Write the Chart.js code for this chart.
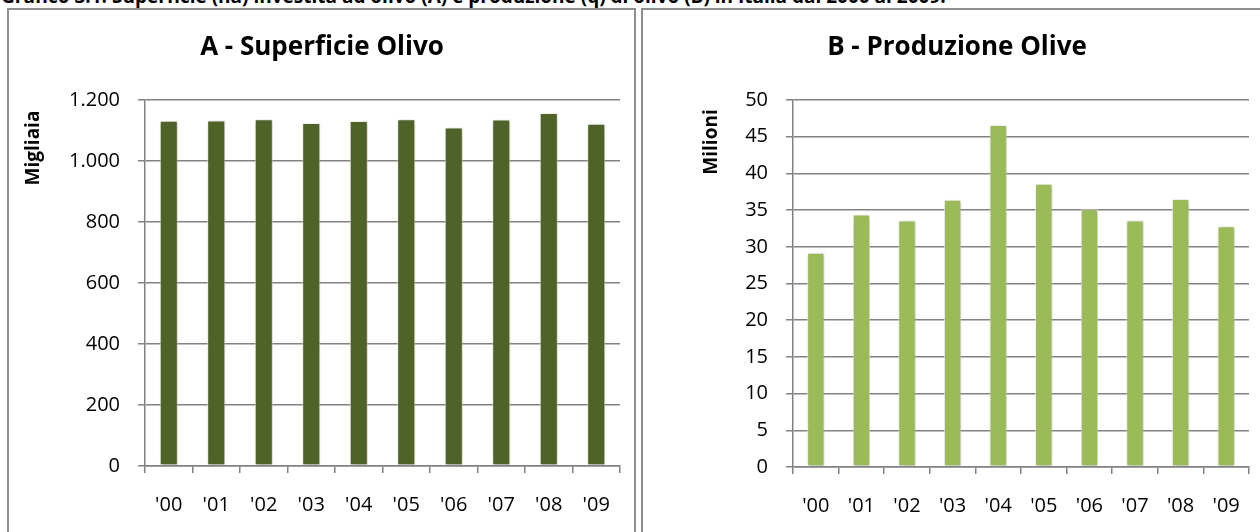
<!DOCTYPE html>
<html lang="it">
<head>
<meta charset="utf-8">
<title>Superficie e produzione olivo in Italia 2000-2009</title>
<script src="https://cdn.jsdelivr.net/npm/chart.js@4.4.1/dist/chart.umd.min.js"></script>
<style>
  html, body { margin: 0; padding: 0; background: #fff; }
  body { position: relative; width: 1260px; height: 532px; overflow: hidden; font-family: "Open Sans", sans-serif; }
  #caption { position: absolute; left: 1px; top: -13px; font: bold 19px/19px "Open Sans", sans-serif; white-space: nowrap; color: #000; }
  .panel { position: absolute; box-sizing: border-box; border: 2px solid #8e8e8e; pointer-events: none; }
  #panelA { left: 7px; top: 8px; width: 629px; height: 540px; }
  #panelB { left: 641px; top: 8px; width: 640px; height: 540px; }
  canvas { position: absolute; top: 0; }
  #chartA { left: 0; }
  #chartB { left: 644px; }
</style>
</head>
<body>
<div id="caption">Grafico 3.1: Superficie (ha) investita ad olivo (A) e produzione (q) di olivo (B) in Italia dal 2000 al 2009.</div>
<canvas id="chartA" width="636" height="532"></canvas>
<canvas id="chartB" width="616" height="532"></canvas>
<div class="panel" id="panelA"></div>
<div class="panel" id="panelB"></div>
<script>
// Anni (asse delle categorie, comune ai due grafici)
const anni = ["'00", "'01", "'02", "'03", "'04", "'05", "'06", "'07", "'08", "'09"];

// A - superficie investita ad olivo, migliaia di ettari
const superficieMigliaia = [1132, 1133, 1137, 1125, 1131, 1137, 1110, 1136, 1157, 1122];
// B - produzione di olive, milioni di quintali
const produzioneMilioni = [29.2, 34.4, 33.6, 36.4, 46.6, 38.6, 35.1, 33.6, 36.5, 32.8];

// Valori delle tacche degli assi verticali
const tacchePanA = [0, 200, 400, 600, 800, 1000, 1200];
const tacchePanB = [0, 5, 10, 15, 20, 25, 30, 35, 40, 45, 50];

const titoloA = 'A - Superficie Olivo';
const titoloB = 'B - Produzione Olive';
const unitaA = 'Migliaia';
const unitaB = 'Milioni';

const FONT = '"Open Sans", sans-serif';
const GRIGIO = '#828282';

Chart.defaults.color = '#000';
Chart.defaults.font.family = FONT;

// Formato italiano con punto come separatore delle migliaia
function formatoIt(v) {
  if (v < 1000) return String(v);
  const resto = String(v % 1000).padStart(3, '0');
  return Math.floor(v / 1000) + '.' + resto;
}

// Ombra morbida sotto le barre
const ombraBarre = {
  id: 'ombraBarre',
  beforeDatasetsDraw(chart) {
    const ctx = chart.ctx;
    ctx.save();
    ctx.shadowColor = 'rgba(0,0,0,0.28)';
    ctx.shadowBlur = 4;
    ctx.shadowOffsetX = 1;
    ctx.shadowOffsetY = 1;
  },
  afterDatasetsDraw(chart) {
    chart.ctx.restore();
  }
};

// Etichetta verticale dell'unità di misura, accanto all'asse
const etichettaUnita = {
  id: 'etichettaUnita',
  afterDraw(chart, args, opts) {
    const ctx = chart.ctx;
    ctx.save();
    ctx.translate(opts.x, opts.y);
    ctx.rotate(-Math.PI / 2);
    ctx.font = 'bold ' + opts.size + 'px ' + FONT;
    ctx.fillStyle = '#000';
    ctx.textAlign = 'center';
    ctx.textBaseline = 'middle';
    ctx.fillText(opts.text, 0, 0);
    ctx.restore();
  }
};

function creaGrafico(id, cfg) {
  return new Chart(document.getElementById(id), {
    type: 'bar',
    data: {
      labels: anni,
      datasets: [{
        data: cfg.valori,
        backgroundColor: cfg.colore,
        borderColor: 'rgba(255,255,255,0.75)',
        borderWidth: 1,
        borderSkipped: false,
        categoryPercentage: 1,
        barPercentage: 0.38
      }]
    },
    options: {
      responsive: false,
      animation: false,
      events: [],
      layout: { padding: { left: cfg.padSx, right: cfg.padDx, top: 0, bottom: 0 } },
      plugins: {
        legend: { display: false },
        tooltip: { enabled: false },
        title: {
          display: true,
          text: cfg.titolo,
          color: '#000',
          font: { family: FONT, size: 26, weight: 'bold', lineHeight: 1.2 },
          padding: { top: 32, bottom: 36.8 }
        },
        etichettaUnita: { text: cfg.unita, x: cfg.unitaX, y: cfg.unitaY, size: 19 }
      },
      scales: {
        x: {
          offset: true,
          afterFit(scale) { scale.height = cfg.altezzaX; },
          grid: { offset: true, drawOnChartArea: false, drawTicks: true, tickLength: 7, color: GRIGIO, lineWidth: 1.5 },
          border: { display: true, color: GRIGIO, width: 1.5 },
          ticks: { font: { family: FONT, size: 20 }, padding: 20, maxRotation: 0, autoSkip: false }
        },
        y: {
          min: 0,
          max: cfg.tacche[cfg.tacche.length - 1],
          afterFit(scale) { scale.width = cfg.larghezzaY; },
          afterBuildTicks(scale) { scale.ticks = cfg.tacche.map(v => ({ value: v })); },
          grid: { color: GRIGIO, lineWidth: 1.5, drawTicks: true, tickLength: 7 },
          border: { display: true, color: GRIGIO, width: 1.5 },
          ticks: { font: { family: FONT, size: 20 }, padding: 18, callback: v => formatoIt(v) }
        }
      }
    },
    plugins: [ombraBarre, etichettaUnita]
  });
}

creaGrafico('chartA', {
  valori: superficieMigliaia, colore: '#4F6228', titolo: titoloA, unita: unitaA,
  tacche: tacchePanA, padSx: 24, padDx: 16, larghezzaY: 121, altezzaX: 66,
  unitaX: 34, unitaY: 148
});

creaGrafico('chartB', {
  valori: produzioneMilioni, colore: '#9BBB59', titolo: titoloB, unita: unitaB,
  tacche: tacchePanB, padSx: 14, padDx: 4, larghezzaY: 135, altezzaX: 65,
  unitaX: 68, unitaY: 142
});
</script>
</body>
</html>
